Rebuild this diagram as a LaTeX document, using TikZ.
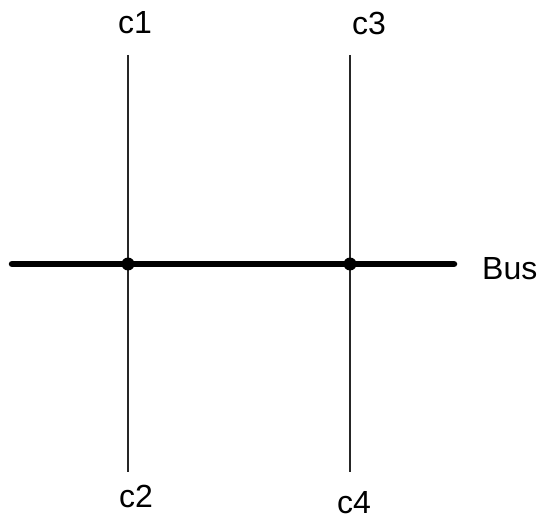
\documentclass[tikz,border=0pt]{standalone}
\usepackage{fontspec}
\setmainfont{Liberation Sans}
\begin{document}
\begin{tikzpicture}[x=1pt,y=-1pt,
  lbl/.style={font=\fontsize{32}{38}\selectfont, inner sep=0pt, anchor=base west},
  wire/.style={line width=2.2pt, black!85},
  bus/.style={line width=6.5pt, line cap=round},
  junction/.style={circle, fill, inner sep=0pt, minimum size=13pt}]
\useasboundingbox (0,0) rectangle (543,521);
\coordinate (b1) at (12,264);
\coordinate (b2) at (454,264);
\coordinate (t1) at (128,55);
\coordinate (d1) at (128,472);
\coordinate (t3) at (350,55);
\coordinate (d3) at (350,472);
\draw[wire] (t1) -- (d1);
\draw[wire] (t3) -- (d3);
\draw[bus] (b1) -- (b2);
\node[junction] (j1) at (128,264) {};
\node[junction] (j2) at (350,264) {};
\node[lbl] (c1) at (118,34) {c1};
\node[lbl] (c3) at (352,35) {c3};
\node[lbl] (c2) at (119,507) {c2};
\node[lbl] (c4) at (337,513) {c4};
\node[lbl] (bus) at (482,279) {Bus};
\end{tikzpicture}
\end{document}
